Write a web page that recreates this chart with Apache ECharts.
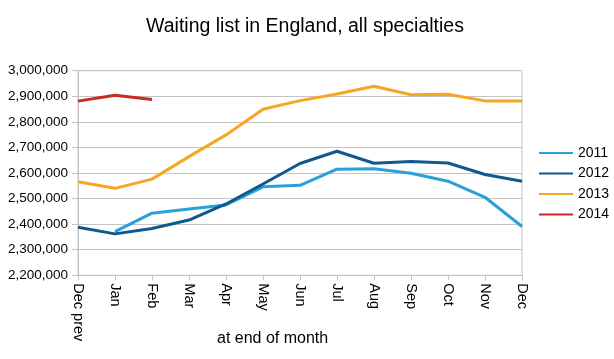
<!DOCTYPE html>
<html><head><meta charset="utf-8">
<script src="https://cdn.jsdelivr.net/npm/echarts@6/dist/echarts.min.js"></script>
<style>html,body{margin:0;padding:0;background:#fff}#c{width:614px;height:359px}</style>
</head><body><div id="c"></div>
<script>
const categories = ['Dec prev','Jan','Feb','Mar','Apr','May','Jun','Jul','Aug','Sep','Oct','Nov','Dec'];
const s2011 = [null,2371000,2443000,2459000,2475000,2546000,2552000,2615000,2617000,2599000,2568000,2505000,2391000];
const s2012 = [2388000,2362000,2383000,2416000,2479000,2557000,2637000,2685000,2638000,2645000,2639000,2594000,2568000];
const s2013 = [2566000,2540000,2576000,2664000,2749000,2849000,2883000,2909000,2939000,2906000,2908000,2882000,2882000];
const s2014 = [2881000,2904000,2887000,null,null,null,null,null,null,null,null,null,null];
const seriesNames = ['2011','2012','2013','2014'];
const colors = ['#2a9fd8','#10598f','#f6a623','#c72a1e'];
const yMin = 2200000, yMax = 3000000, yStep = 100000;

const font = 'Liberation Sans, Arial, sans-serif';
const chart = echarts.init(document.getElementById('c'));
const data = [s2011, s2012, s2013, s2014];
chart.setOption({
  animation: false,
  title: {text: 'Waiting list in England, all specialties', left: 300, textAlign: 'center', top: 12,
    textStyle: {fontFamily: font, fontSize: 19.5, fontWeight: 'normal', color: '#000'}},
  legend: {orient: 'vertical', left: 534, top: 141, itemWidth: 34, itemHeight: 2, itemGap: 6.5,
    icon: 'rect', textStyle: {fontFamily: font, fontSize: 14, color: '#000'},
    data: seriesNames},
  grid: {left: 78, right: 92, top: 70.7, bottom: 83.7, show: true, borderColor: '#c4c4c4', borderWidth: 1},
  xAxis: {type: 'category', data: categories, boundaryGap: false,
    axisLine: {lineStyle: {color: '#c4c4c4'}},
    axisTick: {show: true, length: 5, lineStyle: {color: '#c4c4c4'}, alignWithLabel: true},
    axisLabel: {rotate: -90, color: '#000', fontFamily: font, fontSize: 14.5, margin: 8, interval: 0},
    splitLine: {show: false}},
  yAxis: {type: 'value', min: yMin, max: yMax, interval: yStep,
    axisLine: {show: true, lineStyle: {color: '#c4c4c4'}},
    axisTick: {show: true, length: 6, lineStyle: {color: '#c4c4c4'}},
    axisLabel: {color: '#000', fontFamily: font, fontSize: 13.5, margin: 10,
      formatter: v => v.toLocaleString('en-US')},
    splitLine: {lineStyle: {color: '#c4c4c4'}}},
  graphic: [{type: 'text', left: 217, top: 331,
    style: {text: 'at end of month', fontFamily: font, fontSize: 16, fill: '#000'}}],
  series: data.map((d, i) => ({name: seriesNames[i], type: 'line', data: d, showSymbol: false,
    symbol: 'none', lineStyle: {width: 3, color: colors[i]}, itemStyle: {color: colors[i]}}))
});
</script></body></html>
